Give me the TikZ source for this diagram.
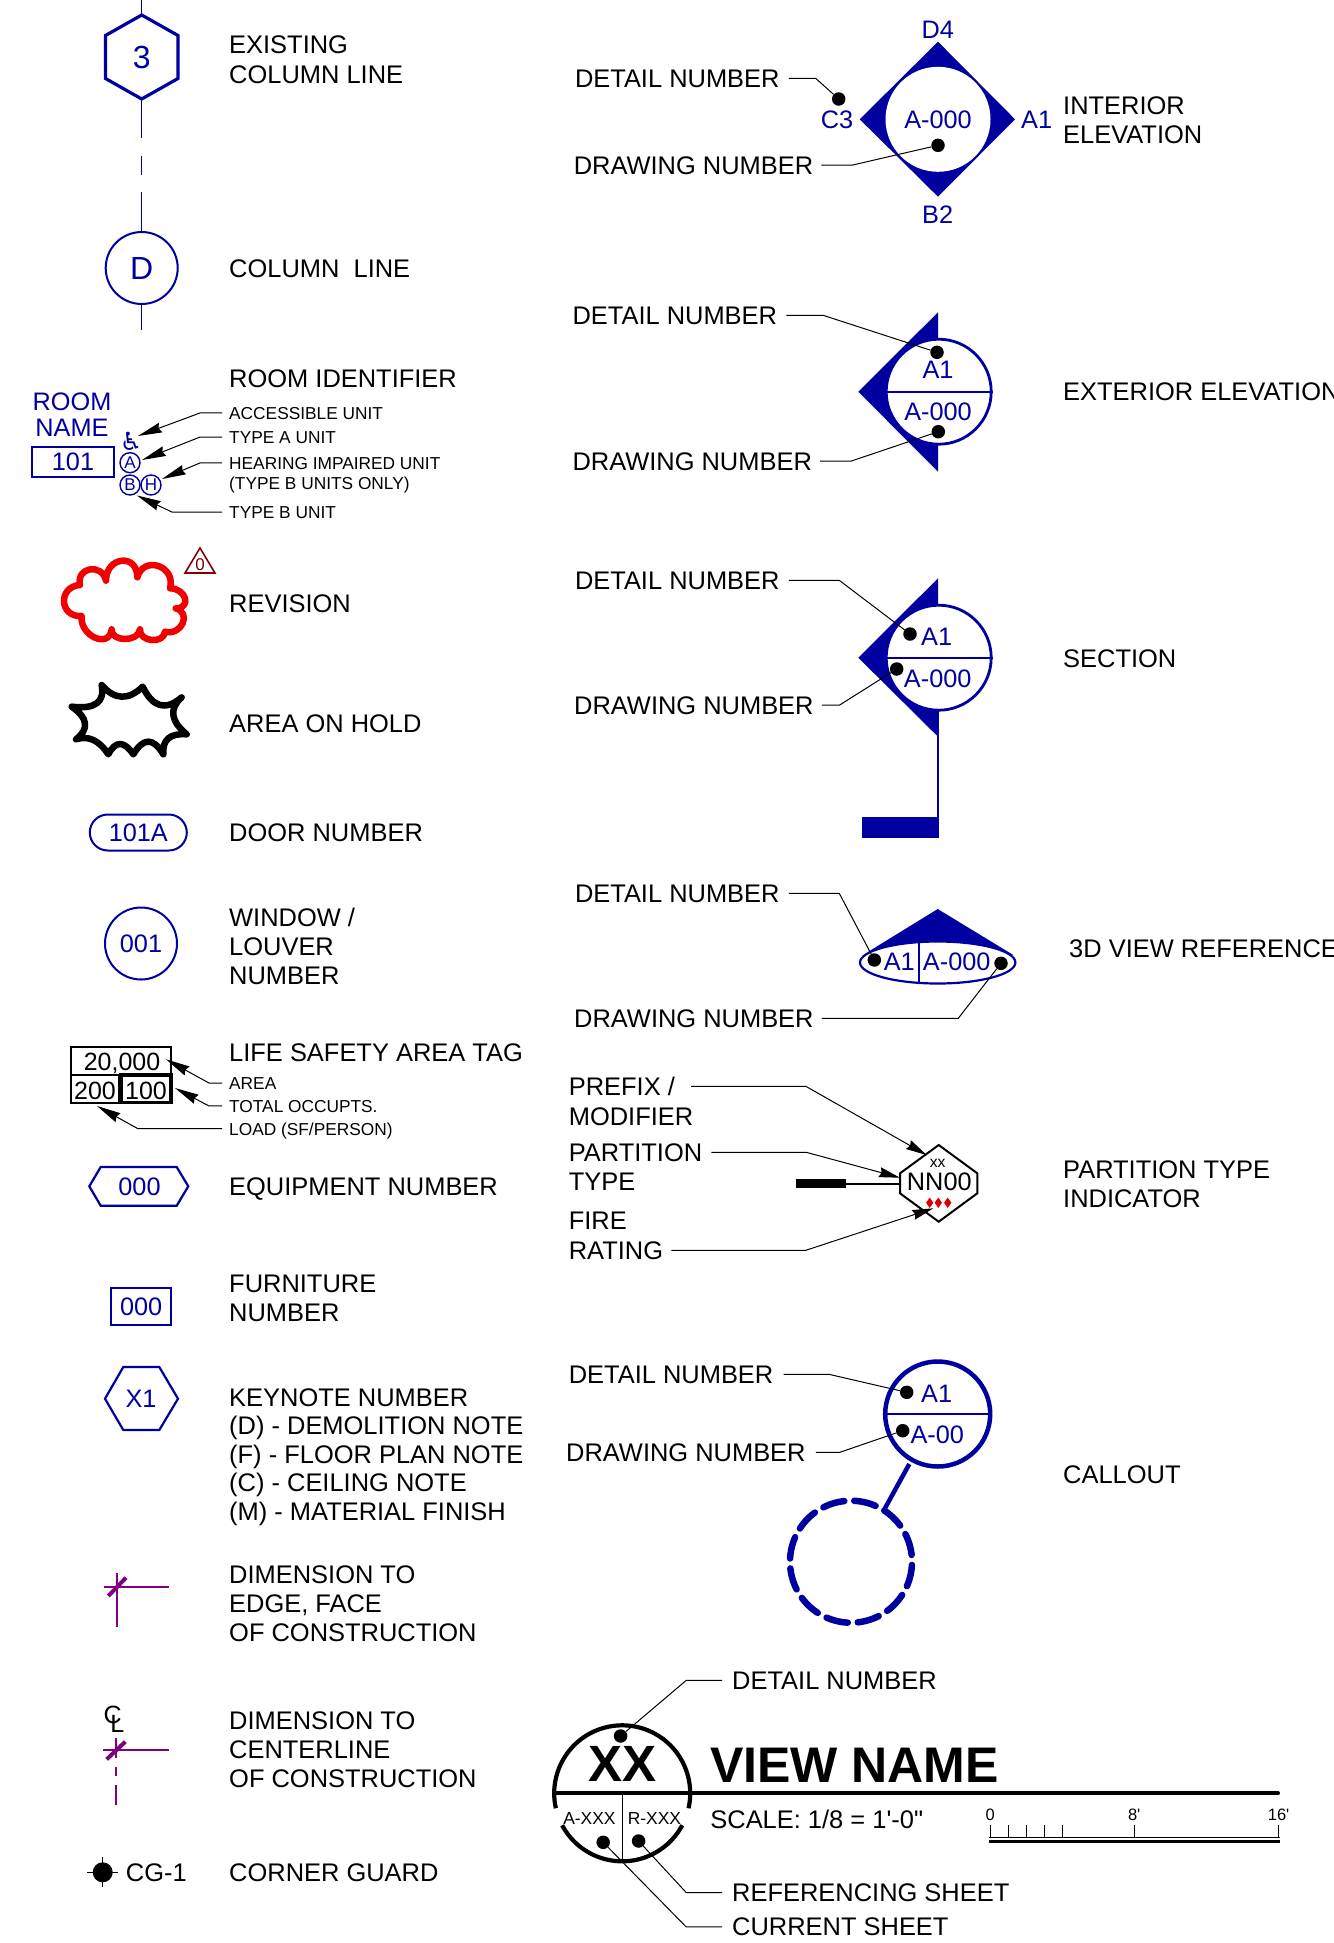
\documentclass[tikz,border=0pt]{standalone}
\usepackage{fontspec}
\usetikzlibrary{arrows.meta,shapes.geometric,shapes.misc}
\newfontfamily\arial{Liberation Sans}
\newfontfamily\dejavu{DejaVu Sans}
\definecolor{cadblue}{RGB}{0,0,160}
\definecolor{cadpurple}{RGB}{128,0,128}
\definecolor{cadred}{RGB}{240,0,0}
\definecolor{cadmaroon}{RGB}{128,0,0}
\tikzset{
  txt/.style={anchor=base west,inner sep=0pt,text=black,font=\arial\fontsize{25.45}{29}\selectfont},
  smalltxt/.style={anchor=base west,inner ysep=0pt,inner xsep=7pt,xshift=-7pt,text depth=0pt,text=black,font=\arial\fontsize{17.3}{20}\selectfont},
  lgap/.style={inner xsep=#1pt,xshift=-#1pt},
  btxt/.style={anchor=center,inner sep=0pt,text depth=0pt,text=cadblue,font=\arial\fontsize{25.3}{29}\selectfont},
  ktxt/.style={anchor=center,inner sep=0pt,text depth=0pt,text=black,font=\arial\fontsize{25}{29}\selectfont},
  bsmall/.style={anchor=center,inner sep=0pt,text depth=0pt,text=cadblue,font=\arial\fontsize{17}{20}\selectfont},
  bline/.style={draw=cadblue,line width=2.2pt,line join=miter},
  bthin/.style={draw=cadblue,line width=1pt},
  ldot/.style={circle,fill=black,inner sep=0pt,minimum size=13.5pt},
  leader/.style={draw=black,line width=1pt},
  arrlead/.style={leader,-{Stealth[length=24pt,width=10pt,inset=2pt]}},
  arrleadb/.style={leader,-{Stealth[length=21pt,width=10pt,inset=2pt]}},
  whitebub/.style={circle,draw=cadblue,fill=white,line width=2.8pt,inner sep=0pt,minimum size=105pt},
}
\begin{document}
\begin{tikzpicture}[x=1pt,y=-1pt]
\useasboundingbox (0,0) rectangle (1333,1943);
\clip (0,0) rectangle (1333,1943);
\fill[white] (0,0) rectangle (1333,1943);

% ---- column lines
\coordinate (hT) at (141.7,15); \coordinate (hB) at (141.7,99);
\draw[bline,line width=3.2pt] (141.7,15) -- (178,35.5) -- (178,78.5) -- (141.7,99) -- (105.5,78.5) -- (105.5,35.5) -- cycle;
\node[btxt,font=\arial\fontsize{32}{34}\selectfont] (hnum) at (141.7,57) {3};
\coordinate (cTop) at (141.7,0);
\coordinate (d1a) at (141.7,156); \coordinate (d1b) at (141.7,175);
\coordinate (l1b) at (141.7,138); \coordinate (l2a) at (141.7,192);
\coordinate (l3b) at (141.7,330);
\draw[bthin] (cTop) -- (hT);
\draw[bthin] (hB) -- (l1b);
\draw[bthin] (d1a) -- (d1b);
\node[circle,draw=cadblue,line width=2pt,inner sep=0pt,minimum size=72pt,text=cadblue,font=\arial\fontsize{32}{34}\selectfont] (colD) at (141.7,268) {D};
\draw[bthin] (l2a) -- (colD.north);
\draw[bthin] (colD.south) -- (l3b);

\node[txt,align=left] (t1) at (229,83) {EXISTING\\COLUMN LINE};
\node[txt] (t2) at (229,277) {COLUMN\ \ LINE};
\node[txt] (t3) at (229,387) {ROOM IDENTIFIER};

% ---- room identifier
\node[btxt] (rm1) at (72,401.7) {ROOM};
\node[btxt] (rm2) at (72,428) {NAME};
\node[btxt,draw=cadblue,line width=2.2pt,minimum width=82pt,minimum height=30pt] (rm3) at (73,462) {101};
\node[inner sep=0pt,text=cadblue,font=\dejavu\fontsize{25}{25}\selectfont] (wc) at (131,441) {♿};
\node[bsmall,circle,draw=cadblue,line width=1.4pt,minimum size=20pt] (cA) at (130,462.7) {A};
\node[bsmall,circle,draw=cadblue,line width=1.4pt,minimum size=20pt] (cB) at (130,485) {B};
\node[bsmall,circle,draw=cadblue,line width=1.4pt,minimum size=20pt] (cH) at (151,485) {H};
\node[smalltxt] (s1) at (229,419) {ACCESSIBLE UNIT};
\node[smalltxt] (s2) at (229,443) {TYPE A UNIT};
\node[smalltxt] (s3) at (229,469) {HEARING IMPAIRED UNIT};
\node[smalltxt] (s3b) at (229,489) {(TYPE B UNITS ONLY)};
\node[smalltxt] (s4) at (229,518) {TYPE B UNIT};
\coordinate (tipwc) at (138,436);
\coordinate (tipA) at (142,460);
\coordinate (tipH) at (162,479);
\coordinate (tipB) at (137,495.5);
\draw[arrlead] (s1.west) -- (200,0 |- s1.west) -- (tipwc);
\draw[arrlead] (s2.west) -- (200,0 |- s2.west) -- (tipA);
\draw[arrlead] (s3.west) -- (200,0 |- s3.west) -- (tipH);
\draw[arrlead] (s4.west) -- (172,0 |- s4.west) -- (tipB);

% ---- revision cloud and area on hold
\begin{scope}[shift={(0,340)},x=0.33333pt,y=-0.33333pt]
\draw[cadred,line width=6.5pt,line join=round]
 (318,722) .. controls (318,649) and (412,639) .. (412,712)
 .. controls (430.7,644.7) and (528.7,677.7) .. (510,745)
 .. controls (558.7,745) and (575.7,805) .. (527,805)
 .. controls (576.3,818.3) and (544.3,888.3) .. (495,875)
 .. controls (491.7,913) and (416.7,906) .. (420,868)
 .. controls (416.7,906.7) and (331.7,906.7) .. (335,868)
 .. controls (328.3,928) and (238.3,888) .. (245,828)
 .. controls (177.7,832.7) and (172.7,739.7) .. (240,735)
 .. controls (228,681) and (306,668) .. cycle;
\draw[black,line width=6.5pt,line join=round]
 (305,1035) .. controls (344,1080) and (385,1081.7) .. (428,1040)
 .. controls (458.3,1102.7) and (497.3,1113.3) .. (545,1072)
 .. controls (506.7,1106.3) and (511.7,1142.7) .. (560,1183)
 .. controls (510,1179) and (486.7,1199) .. (490,1243)
 .. controls (460,1192.3) and (430,1192.3) .. (400,1243)
 .. controls (371.7,1201.7) and (346.7,1201.7) .. (325,1243)
 .. controls (297.3,1200.7) and (265,1185.7) .. (228,1198)
 .. controls (268.3,1166.7) and (264,1134) .. (215,1100)
 .. controls (285,1108.3) and (315,1086.7) .. cycle;
\end{scope}
\draw[cadmaroon,line width=1.6pt,line join=miter] (200,548) -- (215,573) -- (185,573) -- cycle;
\node[bsmall,text=cadmaroon] (rev0) at (200,565) {0};
\node[txt] (t4) at (229,612) {REVISION};
\node[txt] (t5) at (229,732) {AREA ON HOLD};

% ---- door / window
\node[btxt,rounded rectangle,draw=cadblue,line width=2pt,minimum width=97pt,minimum height=36pt] (door) at (138.3,832.5) {101A};
\node[txt] (t6) at (229,841) {DOOR NUMBER};
\node[btxt,circle,draw=cadblue,line width=2pt,minimum size=72pt] (win) at (141,943.5) {001};
\node[txt,align=left] (t7) at (229,984) {WINDOW /\\LOUVER\\NUMBER};

% ---- life safety tag
\draw[black,line width=2pt] (71,1046.7) rectangle (171,1102.7);
\draw[black,line width=2pt] (71,1075) -- (171,1075);
\draw[black,line width=2pt] (119.3,1075) -- (119.3,1102.7);
\draw[black,line width=3.5pt] (121,1075) rectangle (171,1102.7);
\node[ktxt] (v1) at (122,1062) {20,000};
\node[ktxt] (v2) at (95,1090.7) {200};
\node[ktxt] (v3) at (146,1090.7) {100};
\node[txt] (t8) at (229,1061) {LIFE SAFETY AREA TAG};
\node[smalltxt] (s5) at (229,1089) {AREA};
\node[smalltxt] (s6) at (229,1112) {TOTAL OCCUPTS.};
\node[smalltxt] (s7) at (229,1135) {LOAD (SF/PERSON)};
\coordinate (tv1) at (166,1059.3);
\coordinate (tv2) at (175,1088);
\coordinate (tv3) at (97,1106);
\draw[arrlead] (s5.west) -- (209,0 |- s5.west) -- (tv1);
\draw[arrlead] (s6.west) -- (209,0 |- s6.west) -- (tv2);
\draw[arrlead] (s7.west) -- (138,0 |- s7.west) -- (tv3);

% ---- equipment, furniture, keynote
\draw[bline] (100.7,1167) -- (176.7,1167) -- (188.3,1186.3) -- (176.7,1205.7) -- (100.7,1205.7) -- (89.3,1186.3) -- cycle;
\node[btxt] (eq) at (139.5,1186.3) {000};
\node[txt] (t9) at (229,1195) {EQUIPMENT NUMBER};
\node[btxt,draw=cadblue,line width=2.2pt,minimum width=60pt,minimum height=37pt] (fur) at (141.2,1306.7) {000};
\node[txt,align=left] (t10) at (229,1321) {FURNITURE\\NUMBER};
\draw[bline] (123.3,1367) -- (159.3,1367) -- (178,1398.7) -- (159.3,1430) -- (123.3,1430) -- (105,1398.7) -- cycle;
\node[btxt] (key) at (141,1398.7) {X1};
\node[txt,align=left,font=\arial\fontsize{25.45}{28.5}\selectfont] (t11) at (229,1520) {KEYNOTE NUMBER\\(D) - DEMOLITION NOTE\\(F) - FLOOR PLAN NOTE\\(C) - CEILING NOTE\\(M) - MATERIAL FINISH};

% ---- dimensions
\draw[cadpurple,line width=1.8pt] (117.3,1573) -- (117.3,1627);
\draw[cadpurple,line width=1.8pt] (104,1586.7) -- (169,1586.7);
\draw[cadpurple,line width=4pt] (108.3,1596) -- (126,1577.7);
\node[txt,align=left] (t12) at (229,1641) {DIMENSION TO\\EDGE, FACE\\OF CONSTRUCTION};
\node[ktxt] (clC) at (112.7,1715) {C};
\node[ktxt] (clL) at (117.3,1724) {L};
\draw[cadpurple,line width=1.8pt] (103.3,1750.3) -- (169.3,1750.3);
\draw[cadpurple,line width=1.8pt] (115.7,1737.7) -- (115.7,1758);
\draw[cadpurple,line width=1.8pt] (115.7,1766.7) -- (115.7,1776);
\draw[cadpurple,line width=1.8pt] (115.7,1785) -- (115.7,1805);
\draw[cadpurple,line width=4pt] (106.7,1759.3) -- (125.3,1741.7);
\node[txt,align=left] (t13) at (229,1787) {DIMENSION TO\\CENTERLINE\\OF CONSTRUCTION};

% ---- corner guard
\node[circle,fill=black,inner sep=0pt,minimum size=20pt] (cg) at (102.7,1872.3) {};
\draw[black,line width=1.4pt] (87.3,1872.3) -- (118.3,1872.3);
\draw[black,line width=1.4pt] (102.7,1856.7) -- (102.7,1887.3);
\node[txt] (cgt) at (125.7,1881) {CG-1};
\node[txt] (t14) at (229,1881) {CORNER GUARD};

% ---- interior elevation
\fill[cadblue] (938,41.7) -- (1015,119.3) -- (938,196.7) -- (859.7,119.3) -- cycle;
\node[circle,fill=white,inner sep=0pt,minimum size=105pt] (ie) at (938,119.3) {};
\node[btxt] (ieN) at (938,119.3) {A-000};
\node[btxt] (ieD) at (937.7,30) {D4};
\node[btxt] (ieB) at (937.7,215) {B2};
\node[btxt] (ieC) at (837,119.3) {C3};
\node[btxt] (ieA) at (1036.7,119.3) {A1};
\node[ldot] (ied1) at (838.7,99) {};
\node[ldot] (ied2) at (938,145.3) {};
\node[txt,lgap=9] (ia) at (574.8,87) {DETAIL NUMBER};
\node[txt,lgap=8] (ib) at (573.6,174) {DRAWING NUMBER};
\draw[leader] (ia.east) -- (815.7,0 |- ia.east) -- (ied1);
\draw[leader] (ib.east) -- (851.7,0 |- ib.east) -- (ied2);
\node[txt,align=left] (t15) at (1063,143) {INTERIOR\\ELEVATION};

% ---- exterior elevation
\fill[cadblue] (938,312.3) -- (938,471.7) -- (858.3,391.7) -- cycle;
\node[whitebub] (ex) at (938.7,391.7) {};
\draw[bline] (ex.west) -- (ex.east);
\node[btxt] (exA) at (938,370) {A1};
\node[btxt] (exN) at (938,411.7) {A-000};
\node[ldot] (exd1) at (937,352.3) {};
\node[ldot] (exd2) at (938.3,431.7) {};
\node[txt,lgap=9] (xa) at (572.3,324) {DETAIL NUMBER};
\node[txt,lgap=8] (xb) at (572.3,470) {DRAWING NUMBER};
\draw[leader] (xa.east) -- (823.3,0 |- xa.east) -- (exd1);
\draw[leader] (xb.east) -- (850.7,0 |- xb.east) -- (exd2);
\node[txt] (t16) at (1063,400.5) {EXTERIOR ELEVATION};

% ---- section
\fill[cadblue] (938,578.3) -- (938,736.7) -- (858.3,657.7) -- cycle;
\node[whitebub] (se) at (938.7,657.7) {};
\draw[bline] (se.west) -- (se.east);
\coordinate (stemT) at (938,710); \coordinate (stemB) at (938,838.3);
\draw[bline,line width=2.8pt] (stemT) -- (stemB);
\fill[cadblue] (861.7,817.3) rectangle (938.7,838.3);
\node[btxt] (seA) at (936.7,636.7) {A1};
\node[btxt] (seN) at (937.7,679) {A-000};
\node[ldot] (sed1) at (910,634) {};
\node[ldot] (sed2) at (896.7,669) {};
\node[txt,lgap=9] (sa) at (574.8,589) {DETAIL NUMBER};
\node[txt,lgap=8] (sb) at (574,714) {DRAWING NUMBER};
\draw[leader] (sa.east) -- (839.3,0 |- sa.east) -- (sed1);
\draw[leader] (sb.east) -- (839.3,0 |- sb.east) -- (sed2);
\node[txt] (t17) at (1063,667) {SECTION};

% ---- 3D view
\fill[cadblue] (937.7,909) -- (1013.3,955) -- (868.3,951.7) -- cycle;
\draw[cadblue,fill=white,line width=2.2pt] (937.7,962.5) ellipse [x radius=77.7,y radius=21];
\draw[bline] (919,941.5) -- (919,983.5);
\node[btxt] (vA) at (899.3,961.7) {A1};
\node[btxt] (vN) at (956.7,961.7) {A-000};
\node[ldot] (vd1) at (874.3,960) {};
\node[ldot] (vd2) at (1001,963.3) {};
\node[txt,lgap=9] (va) at (574.8,902) {DETAIL NUMBER};
\node[txt,lgap=8] (vb) at (574,1027) {DRAWING NUMBER};
\draw[leader] (va.east) -- (839.3,0 |- va.east) -- (vd1);
\draw[leader] (vb.east) -- (958.3,0 |- vb.east) -- (vd2);
\node[txt] (t18) at (1069,957) {3D VIEW REFERENCE};

% ---- partition
\draw[black,line width=2pt,line join=miter] (938.7,1145) -- (977.3,1173.3) -- (977.3,1193.3) -- (938.7,1221.7) -- (900,1193.3) -- (900,1173.3) -- cycle;
\node[ktxt,font=\arial\fontsize{15.7}{16}\selectfont] (pxx) at (937.7,1163) {xx};
\node[ktxt,font=\arial\fontsize{25.3}{26}\selectfont] (pnn) at (939.3,1181.7) {NN00};
\foreach \dx in {929.7,938.3,947.7}{\fill[red!85!black] (\dx-3.6,1202.7) -- (\dx,1197.5) -- (\dx+3.6,1202.7) -- (\dx,1208) -- cycle;}
\fill[black] (795.7,1179) rectangle (845.7,1188.3);
\coordinate (wallE) at (845.7,1183.5); \coordinate (wallW) at (900,1183.5);
\draw[black,line width=2pt] (wallE) -- (wallW);
\node[txt,lgap=16] (pa) at (568.6,1095.5) {PREFIX /};
\node[txt] (pa2) at (568.6,1125) {MODIFIER};
\node[txt,lgap=9] (pb) at (568.6,1161) {PARTITION};
\node[txt] (pb2) at (568.6,1190) {TYPE};
\node[txt] (pc) at (568.6,1229) {FIRE};
\node[txt,lgap=8] (pc2) at (568.6,1259) {RATING};
\coordinate (tpa) at (926.7,1155);
\coordinate (tpb) at (900,1177.7);
\coordinate (tpc) at (933.3,1208.3);
\draw[arrleadb] (pa.east) -- (806,0 |- pa.east) -- (tpa);
\draw[arrleadb] (pb.east) -- (806,0 |- pb.east) -- (tpb);
\draw[arrleadb] (pc2.east) -- (806,0 |- pc2.east) -- (tpc);
\node[txt,align=left] (t19) at (1063,1207) {PARTITION TYPE\\INDICATOR};

% ---- callout
\node[circle,draw=cadblue,fill=white,line width=4.5pt,inner sep=0pt,minimum size=105pt] (co) at (937.7,1414) {};
\draw[bline] (co.west) -- (co.east);
\node[btxt] (coA) at (936.7,1393.3) {A1};
\node[btxt] (coN) at (937.3,1435) {A-00};
\node[ldot] (cod1) at (906.7,1392.3) {};
\node[ldot] (cod2) at (902.7,1430.7) {};
\node[txt,lgap=10] (ca) at (568.6,1383) {DETAIL NUMBER};
\node[txt,lgap=10] (cb) at (566,1461) {DRAWING NUMBER};
\draw[leader] (ca.east) -- (829.3,0 |- ca.east) -- (cod1);
\draw[leader] (cb.east) -- (840,0 |- cb.east) -- (cod2);
\coordinate (coFoot) at (884,1510); \coordinate (coTop) at (909.3,1464);
\draw[cadblue,line width=4.5pt] (coTop) -- (coFoot);
\draw[cadblue,line width=6.5pt,line cap=round,dash pattern=on 22pt off 9.94pt]
  plot[domain=57:-303,samples=180] ({851+61*cos(\x)},{1561.7-61*sin(\x)});
\node[txt] (t20) at (1063,1483) {CALLOUT};

% ---- view title
\draw[black,line width=4.2pt,line join=round] plot[domain=-12.7:192.7,samples=90] ({622.2+68*cos(\x)},{1793.3-68*sin(\x)});
\draw[black,line width=4.2pt,line join=round] plot[domain=208:332,samples=60] ({622.2+68*cos(\x)},{1793.3-68*sin(\x)});
\coordinate (rulL) at (556.5,1793.3); \coordinate (rulR) at (1278,1793.3);
\draw[black,line width=4pt,line cap=round] (rulL) -- (rulR);
\coordinate (divT) at (622.2,1793.3); \coordinate (divB) at (622.2,1860);
\draw[black,line width=1.2pt] (divT) -- (divB);
\node[ktxt,font=\arial\bfseries\fontsize{51}{52}\selectfont] (xx) at (622.2,1764.3) {XX};
\node[txt,font=\arial\bfseries\fontsize{50}{52}\selectfont] (vname) at (709.8,1782.7) {VIEW NAME};
\node[ktxt,font=\arial\fontsize{17.4}{20}\selectfont] (axxx) at (589.4,1818.3) {A-XXX};
\node[ktxt,font=\arial\fontsize{17.4}{20}\selectfont] (rxxx) at (654.4,1818.3) {R-XXX};
\node[txt] (scale) at (710.2,1828.3) {SCALE: 1/8 = 1'-0"};
\node[ktxt,font=\arial\fontsize{16.5}{18}\selectfont] (n0) at (990.3,1814.3) {0};
\node[ktxt,font=\arial\fontsize{16.5}{18}\selectfont] (n8) at (1134.2,1814.3) {8'};
\node[ktxt,font=\arial\fontsize{16.5}{18}\selectfont] (n16) at (1278.6,1814.3) {16'};
\foreach \tx in {990.3,1008.2,1026.7,1044.6,1062.5,1134.2,1278.6}{\draw[black,line width=1pt] (\tx,1825) -- (\tx,1838);}
\draw[black,line width=1pt] (989.3,1837.7) -- (1280,1837.7);
\draw[black,line width=3pt] (989.3,1841.7) -- (1280,1841.7);
\node[ldot] (vt1) at (620.6,1736) {};
\node[ldot] (vt2) at (603.2,1842.3) {};
\node[ldot] (vt3) at (638.6,1841) {};
\node[txt,lgap=10] (vl1) at (732,1689) {DETAIL NUMBER};
\node[txt,lgap=10] (vl2) at (732,1901.3) {REFERENCING SHEET};
\node[txt,lgap=10] (vl3) at (732,1935.7) {CURRENT SHEET};
\draw[leader] (vl1.west) -- (686.2,0 |- vl1.west) -- (vt1);
\draw[leader] (vl2.west) -- (686.2,0 |- vl2.west) -- (vt3);
\draw[leader] (vl3.west) -- (686.2,0 |- vl3.west) -- (vt2);
\end{tikzpicture}
\end{document}
